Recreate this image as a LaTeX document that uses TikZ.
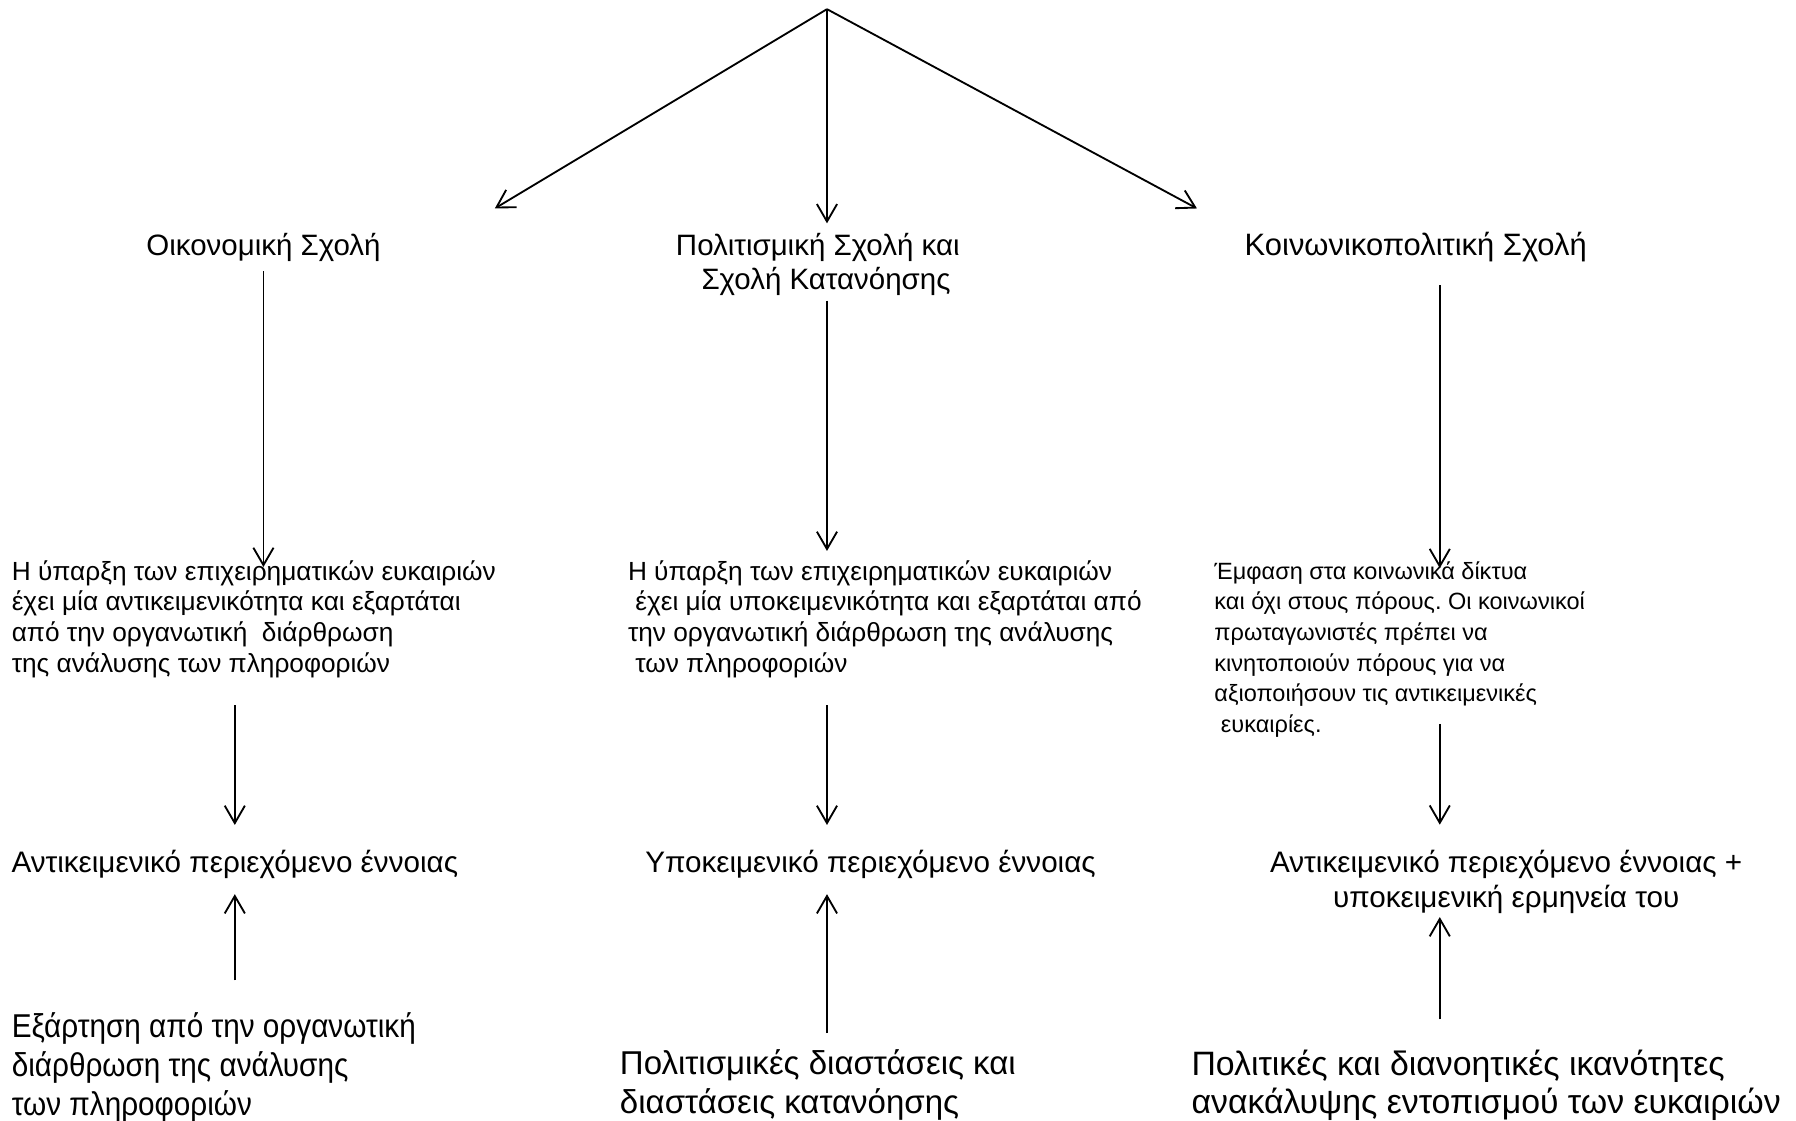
\documentclass[tikz,border=0pt]{standalone}
\usepackage{fontspec}
\setmainfont{Liberation Sans}
\newfontfamily\narrowsans[FakeStretch=0.9]{Liberation Sans}
\usetikzlibrary{arrows.meta}
\frenchspacing

\begin{document}
\begin{tikzpicture}[
  x=0.025cm, y=-0.025cm,
  school/.style={align=center, inner sep=0pt,
    font=\fontsize{18.3}{21.5}\selectfont},
  claim/.style={align=left, inner sep=0pt, anchor=north west,
    font=\fontsize{16.3}{19}\selectfont},
  content/.style={align=center, inner sep=0pt,
    font=\fontsize{18.4}{21.5}\selectfont},
  source/.style={align=left, inner sep=0pt, anchor=north west,
    font=\fontsize{20.5}{24}\selectfont},
  link/.style={-{Straight Barb[length=3.8mm,width=4.4mm]}, line width=1.15pt}
]
\useasboundingbox (0,0) rectangle (1568,978);

% three schools
\coordinate (root) at (722,8);
\coordinate (axisC) at (1257,0);
\node[school, anchor=base] (econ) at (230,223) {Οικονομική Σχολή};
\node[school, anchor=north] (cult) at (714,203)
  {Πολιτισμική Σχολή και\\\ \ Σχολή Κατανόησης};
\node[school, anchor=base, font=\fontsize{19.2}{21.5}\selectfont] (soc)
  at (1236,223) {Κοινωνικοπολιτική Σχολή};
\coordinate (econ-in) at (432,182);
\coordinate (soc-in) at (1045,182);
\draw[link] (root) -- (econ-in);
\draw[link, shorten >=2mm] (root) -- (cult.north -| root);
\draw[link] (root) -- (soc-in);

% what the opportunities depend on
\node[claim] (claimA) at (10,489) {Η ύπαρξη των επιχειρηματικών ευκαιριών\\
  έχει μία αντικειμενικότητα και εξαρτάται\\
  από την οργανωτική\ \ διάρθρωση\\
  της ανάλυσης των πληροφοριών};
\node[claim] (claimB) at (548,489) {Η ύπαρξη των επιχειρηματικών ευκαιριών\\
  \ έχει μία υποκειμενικότητα και εξαρτάται από\\
  την οργανωτική διάρθρωση της ανάλυσης\\
  \ των πληροφοριών};
\node[claim, font=\fontsize{14.6}{19}\selectfont] (claimC) at (1060,490)
  {Έμφαση στα κοινωνικά δίκτυα\\
  και όχι στους πόρους. Οι κοινωνικοί\\
  πρωταγωνιστές πρέπει να\\
  κινητοποιούν πόρους για να\\
  αξιοποιήσουν τις αντικειμενικές\\
  \ ευκαιρίες.};
\draw[link, shorten <=2mm, shorten >=-1.5mm] (econ.south) -- (econ.south |- claimA.north);
\draw[link, shorten <=1mm, shorten >=2mm] (cult.south -| root) -- (claimB.north -| root);
\draw[link, shorten <=5mm, shorten >=-1.5mm] (soc.south -| axisC) -- (claimC.north -| axisC);

% content of the concept
\node[content, anchor=base] (contA) at (205,762) {Αντικειμενικό περιεχόμενο έννοιας};
\node[content, anchor=base] (contB) at (760,762) {Υποκειμενικό περιεχόμενο έννοιας};
\node[content, anchor=north] (contC) at (1315,742)
  {Αντικειμενικό περιεχόμενο έννοιας +\\υποκειμενική ερμηνεία του};
\draw[link, shorten <=6mm, shorten >=5.5mm] (claimA.south -| contA) -- (contA.north);
\draw[link, shorten <=6mm, shorten >=5.5mm] (claimB.south -| root) -- (contB.north -| root);
\draw[link, shorten <=-3mm, shorten >=5.5mm] (claimC.south -| axisC) -- (contC.north -| axisC);

% sources
\node[source, font=\narrowsans\fontsize{20.5}{24}\selectfont] (srcA) at (10,884)
  {Εξάρτηση από την οργανωτική\\
  διάρθρωση της ανάλυσης\\
  των πληροφοριών};
\node[source] (srcB) at (541,916) {Πολιτισμικές διαστάσεις και\\
  διαστάσεις κατανόησης};
\node[source, font=\fontsize{21}{24}\selectfont] (srcC) at (1040,916)
  {Πολιτικές και διανοητικές ικανότητες\\
  ανακάλυψης εντοπισμού των ευκαιριών};
\draw[link, shorten <=7mm, shorten >=3.25mm] (srcA.north -| contA) -- (contA.south);
\draw[link, shorten <=3.5mm, shorten >=3.25mm] (srcB.north -| root) -- (contB.south -| root);
\draw[link, shorten <=6.5mm, shorten >=0.75mm] (srcC.north -| axisC) -- (contC.south -| axisC);
\end{tikzpicture}
\end{document}
